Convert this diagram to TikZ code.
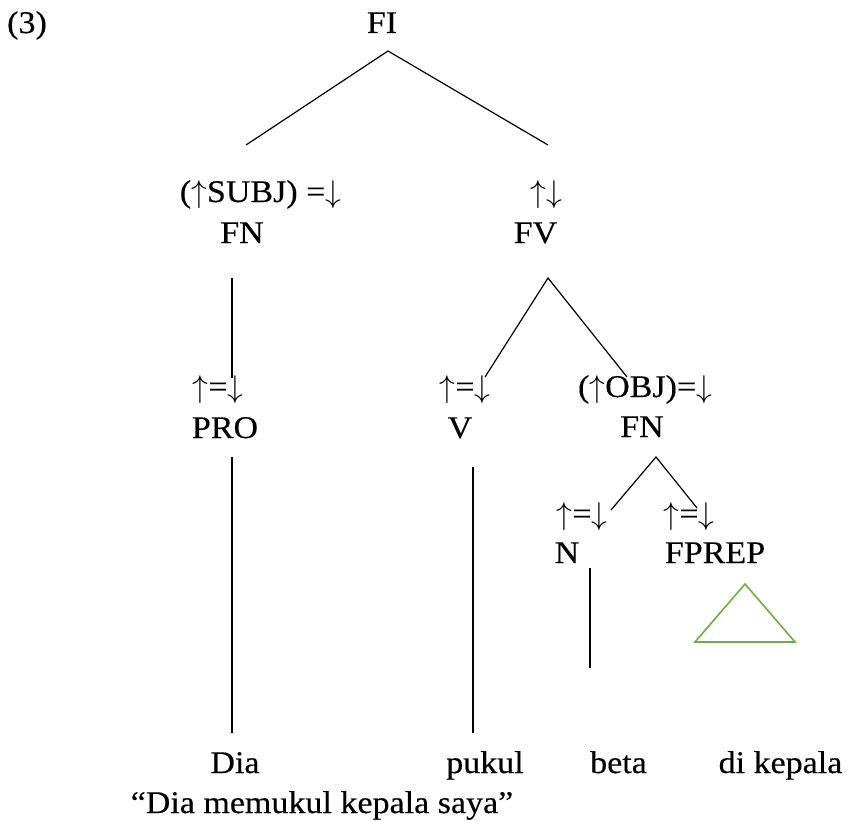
\documentclass[tikz,border=0pt]{standalone}
\usepackage{fix-cm}
\usepackage{fontspec}
\setmainfont{Liberation Serif}[FakeStretch=1.08,FakeBold=0.35]
\newcommand{\upar}{\ensuremath{\uparrow}}
\newcommand{\dnar}{\ensuremath{\downarrow}}
\begin{document}
\begin{tikzpicture}[x=1pt,y=-1pt,
  lbl/.style={anchor=base,inner sep=0pt,font=\fontsize{31.5}{36}\selectfont},
  lblw/.style={anchor=base west,inner sep=0pt,font=\fontsize{31.5}{36}\selectfont},
  branch/.style={draw=black,line width=1.2pt},
  tri/.style={draw={rgb,255:red,112;green,173;blue,71},line width=1.6pt,line join=miter}]
\useasboundingbox (0,0) rectangle (848,821);
% labels
\node[lblw] (ex) at (7,33) {(3)};
\node[lbl] (fi) at (382,33) {FI};
\node[lbl] (subjeq) at (260.5,202) {(\upar SUBJ) =\dnar};
\node[lbl] (fn1) at (242,243) {FN};
\node[lbl] (fveq) at (546,202) {\upar\dnar};
\node[lbl] (fv) at (535.5,243) {FV};
\node[lbl] (proeq) at (218,397) {\upar=\dnar};
\node[lbl] (pro) at (225,438) {PRO};
\node[lbl] (veq) at (465,397) {\upar=\dnar};
\node[lbl] (v) at (460,438) {V};
\node[lbl] (objeq) at (645,397) {(\upar OBJ)=\dnar};
\node[lbl] (fn2) at (642,437) {FN};
\node[lbl] (neq) at (582,524) {\upar=\dnar};
\node[lbl] (n) at (567,563) {N};
\node[lbl] (fpeq) at (689,524) {\upar=\dnar};
\node[lbl] (fprep) at (715,563) {FPREP};
\node[lbl] (dia) at (235,773) {Dia};
\node[lbl] (pukul) at (485,773) {pukul};
\node[lbl] (beta) at (618.5,773) {beta};
\node[lbl] (dikepala) at (780.5,773) {di kepala};
\node[lbl] (gloss) at (322,813) {“Dia memukul kepala saya”};
% branch points
\coordinate (fitop) at (388,51);
\coordinate (fileft) at (246,145);
\coordinate (firight) at (548,145);
\coordinate (fnA) at (232,278);
\coordinate (fnB) at (232,378);
\coordinate (proA) at (232,457);
\coordinate (proB) at (232,733);
\coordinate (fvtop) at (548,278);
\coordinate (fvleft) at (485,377);
\coordinate (fvright) at (627,377);
\coordinate (vA) at (473,467);
\coordinate (vB) at (473,733);
\coordinate (fntop) at (656,457);
\coordinate (fnleft) at (611,510);
\coordinate (fnright) at (697,508);
\coordinate (nA) at (590,568);
\coordinate (nB) at (590,668);
\coordinate (ta) at (745,584);
\coordinate (tl) at (695,642);
\coordinate (tr) at (795,642);
% branches
\draw[branch] (fileft) -- (fitop) -- (firight);
\draw[branch] (fnA) -- (fnB);
\draw[branch] (proA) -- (proB);
\draw[branch] (fvleft) -- (fvtop) -- (fvright);
\draw[branch] (vA) -- (vB);
\draw[branch] (fnleft) -- (fntop) -- (fnright);
\draw[branch] (nA) -- (nB);
\draw[tri] (ta) -- (tl) -- (tr) -- cycle;
\end{tikzpicture}
\end{document}
